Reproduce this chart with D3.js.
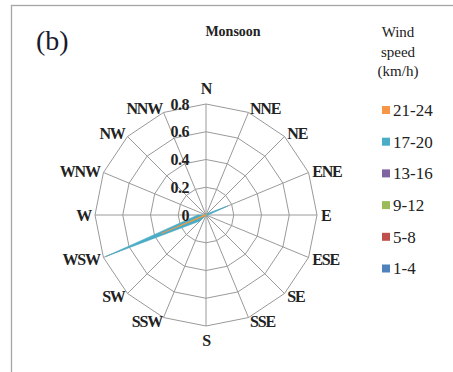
<!DOCTYPE html>
<html><head><meta charset="utf-8">
<script src="https://cdn.jsdelivr.net/npm/d3@7"></script>
</head><body style="margin:0">
<svg id="c" width="453" height="372" font-family="Liberation Serif"></svg>
<script>
const directions = ["N","NNE","NE","ENE","E","ESE","SE","SSE","S","SSW","SW","WSW","W","WNW","NW","NNW"];
const seriesNames = ["1-4","5-8","9-12","13-16","17-20","21-24"];
const seriesColors = ["#4F81BD","#C0504D","#9BBB59","#8064A2","#4BACC6","#F79646"];
// values per direction (N..NNW)
const s1to4   = [0,0,0,0,0,0,0,0,0,0,0,0,0,0,0,0];
const s5to8   = [0,0,0,0,0,0,0,0,0,0,0,0,0,0,0,0];
const s9to12  = [0,0,0,0.01,0,0,0,0,0,0,0.005,0.22,0.01,0,0,0];
const s13to16 = [0,0,0,0,0,0,0,0,0,0,0,0,0,0,0,0];
const s17to20 = [0,0,0.015,0.17,0.015,0,0,0,0,0,0.06,0.78,0.06,0,0,0];
const s21to24 = [0,0,0,0,0,0,0,0,0,0,0.005,0.35,0.01,0,0,0];
const seriesValues = [s1to4, s5to8, s9to12, s13to16, s17to20, s21to24];
const ticks = [0, 0.2, 0.4, 0.6, 0.8];
const drawOrder = [0,1,3,4,2,5];

const svg = d3.select("#c");
const cx = 206, cy = 215, R = 111;
const r = d3.scaleLinear().domain([0, 0.8]).range([0, R]);
const ang = d3.scalePoint().domain(directions).range([0, 2*Math.PI*15/16]);
const pt = (d, v) => [cx + r(v)*Math.sin(ang(d)), cy - r(v)*Math.cos(ang(d))];
const FF = "Liberation Serif";

// frame
svg.append("rect").attr("x",11.5).attr("y",5.5).attr("width",460).attr("height",380)
  .attr("fill","none").attr("stroke","#a6a6a6").attr("stroke-width",1.3);

// grid rings
const g = svg.append("g");
ticks.filter(t=>t>0).forEach(t=>{
  g.append("path").attr("d", d3.line()(directions.map(d=>pt(d,t))) + "Z")
    .attr("fill","none").attr("stroke","#9a9a9a").attr("stroke-width",1);
});
directions.forEach(d=>{
  const [x,y] = pt(d, 0.8);
  g.append("line").attr("x1",cx).attr("y1",cy).attr("x2",x).attr("y2",y)
    .attr("stroke","#9a9a9a").attr("stroke-width",1);
});

// series
drawOrder.forEach(i=>{
  const vals = seriesValues[i];
  svg.append("path").attr("d", d3.line()(directions.map((d,j)=>pt(d, vals[j]))) + "Z")
    .attr("fill", seriesColors[i]).attr("stroke", seriesColors[i]).attr("stroke-width",0.6)
    .attr("stroke-linejoin","round");
});

// tick labels
ticks.forEach(t=>{
  svg.append("text").attr("x", cx-17).attr("y", cy - r(t)).attr("dy","0.35em")
    .attr("text-anchor","end").attr("font-family",FF).attr("font-weight","bold")
    .attr("font-size",16).attr("letter-spacing","-0.5").attr("fill","#222").text(t);
});

// direction labels
directions.forEach(d=>{
  const a = ang(d), s = Math.sin(a), c = Math.cos(a);
  let x = cx + (R+4)*s, y = cy - (R+4)*c, anchor;
  if (Math.abs(s) < 0.01) { anchor = "middle"; y = c > 0 ? cy - R - 16 : cy + R + 14; }
  else anchor = s > 0 ? "start" : "end";
  svg.append("text").attr("x", x).attr("y", y).attr("dy","0.35em").attr("text-anchor",anchor)
    .attr("font-family",FF).attr("font-weight","bold").attr("font-size",16)
    .attr("letter-spacing","-1.2").attr("fill","#222").text(d);
});

// panel label & title
svg.append("text").attr("x",36).attr("y",50).attr("font-family",FF)
  .attr("font-size",28).attr("fill","#1a1a2e").text("(b)");
svg.append("text").attr("x",233).attr("y",36).attr("text-anchor","middle")
  .attr("font-family",FF).attr("font-weight","bold").attr("font-size",14)
  .attr("fill","#222").text("Monsoon");

// legend
const lt = ["Wind","speed","(km/h)"];
lt.forEach((t,i)=>svg.append("text").attr("x",398).attr("y",32+i*19.5).attr("dy","0.35em")
  .attr("text-anchor","middle").attr("font-family",FF).attr("font-size",15)
  .attr("fill","#222").text(t));
const legendOrder = [5,4,3,2,1,0];
legendOrder.forEach((i,k)=>{
  const y = 110 + k*31.7;
  svg.append("rect").attr("x",382).attr("y",y-4).attr("width",8).attr("height",8).attr("fill",seriesColors[i]);
  svg.append("text").attr("x",393).attr("y",y).attr("dy","0.35em").attr("font-family",FF)
    .attr("font-size",17).attr("fill","#222").text(seriesNames[i]);
});
</script>
</body></html>
